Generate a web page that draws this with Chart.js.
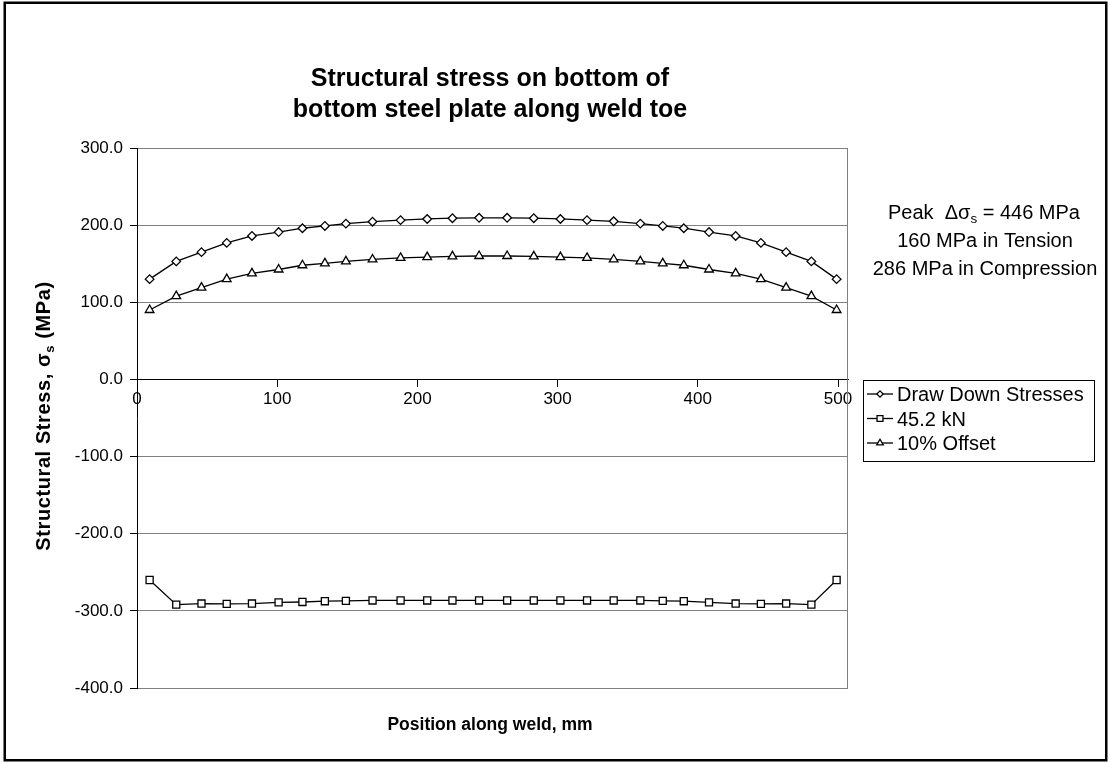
<!DOCTYPE html>
<html>
<head>
<meta charset="utf-8">
<script src="https://cdn.jsdelivr.net/npm/chart.js@4.4.1/dist/chart.umd.min.js"></script>
<style>
  html, body { margin: 0; padding: 0; background: #fff; }
  #wrap { width: 1110px; height: 763px; position: relative; }
</style>
</head>
<body>
<div id="wrap"><canvas id="chart" width="1110" height="763"></canvas></div>
<script>
// position along the weld (mm) and the three stress series (MPa)
const positions = [9, 28, 46, 64, 82, 101, 118, 134, 149, 168, 188, 207, 225, 244,
  264, 283, 302, 321, 340, 359, 375, 390, 408, 427, 445, 463, 481, 499];
const drawDown = [130, 153, 165, 177, 186, 191, 196, 199, 202, 204.5, 206.5, 208, 209, 209.5,
  209.5, 209, 208, 206.5, 205, 202, 199, 196, 191, 186, 177, 165, 153, 130];
const load452 = [-260, -292, -290.5, -291, -290.5, -289, -288.5, -287.5, -287, -286.5, -286.5, -286.5, -286.5, -286.5,
  -286.5, -286.5, -286.5, -286.5, -286.5, -286.5, -287, -287.5, -289, -290.5, -291, -290.5, -292, -260];
const offset10 = [90, 108, 119, 130, 137.5, 142.5, 148, 150.5, 153, 155.5, 157.5, 158.5, 159.5, 160,
  160, 159.5, 158.5, 157.5, 155.5, 153, 150.5, 148, 142.5, 137.5, 130, 119, 108, 90];

const xTicks = [0, 100, 200, 300, 400, 500];
const yTicks = [-400, -300, -200, -100, 0, 100, 200, 300];

const seriesNames = ["Draw Down Stresses", "45.2 kN", "10% Offset"];
const titleLines = ["Structural stress on bottom of", "bottom steel plate along weld toe"];

const FONT = "'Liberation Sans', Arial, sans-serif";

const toPoints = (ys) => ys.map((y, i) => ({ x: positions[i], y: y }));

function makeSet(label, ys, style, radius) {
  return {
    label: label,
    data: toPoints(ys),
    borderColor: "#000",
    borderWidth: 1.3,
    pointStyle: style,
    pointRadius: radius,
    pointBackgroundColor: "#fff",
    pointBorderColor: "#000",
    pointBorderWidth: 1.3,
    tension: 0,
    fill: false,
  };
}

// text with a subscript piece; parts are drawn left to right, centred on x
function drawRich(ctx, parts, x, y) {
  let w = 0;
  parts.forEach((p) => { ctx.font = p.font; p.w = ctx.measureText(p.t).width; w += p.w; });
  let cx = x - w / 2;
  parts.forEach((p) => {
    ctx.font = p.font;
    ctx.fillText(p.t, cx, y + (p.dy || 0));
    cx += p.w;
  });
}

const decorations = {
  id: "decorations",
  afterDraw(chart) {
    const ctx = chart.ctx;
    const area = chart.chartArea;
    ctx.save();

    // right edge of plot area
    ctx.strokeStyle = "#808080";
    ctx.lineWidth = 1;
    ctx.beginPath();
    ctx.moveTo(area.right - 0.5, area.top);
    ctx.lineTo(area.right - 0.5, area.bottom);
    ctx.stroke();

    // outer frame
    ctx.strokeStyle = "#000";
    ctx.lineWidth = 2.5;
    ctx.strokeRect(4.75, 2.75, 1101.5, 757.5);

    ctx.fillStyle = "#000";
    ctx.textAlign = "left";
    ctx.textBaseline = "alphabetic";

    // title
    const tf = "bold 25px " + FONT;
    drawRich(ctx, [{ t: titleLines[0], font: tf }], 490, 86);
    drawRich(ctx, [{ t: titleLines[1], font: tf }], 490, 117);

    // x axis title
    drawRich(ctx, [{ t: "Position along weld, mm", font: "bold 17.5px " + FONT }], 490, 730);

    // y axis title
    ctx.save();
    ctx.translate(50, 416);
    ctx.rotate(-Math.PI / 2);
    ctx.letterSpacing = "0.6px";
    const yf = "bold 20px " + FONT;
    drawRich(ctx, [
      { t: "Structural Stress, \u03c3", font: yf },
      { t: "s", font: "bold 13px " + FONT, dy: 4 },
      { t: " (MPa)", font: yf },
    ], 0, 0);
    ctx.restore();

    // peak annotation
    const af = "20px " + FONT;
    drawRich(ctx, [
      { t: "Peak  \u0394\u03c3", font: af },
      { t: "s", font: "13.5px " + FONT, dy: 4 },
      { t: " = 446 MPa", font: af },
    ], 984, 219);
    drawRich(ctx, [{ t: "160 MPa in Tension", font: af }], 985, 247);
    drawRich(ctx, [{ t: "286 MPa in Compression", font: af }], 985, 275);

    // legend
    ctx.strokeStyle = "#000";
    ctx.lineWidth = 1;
    ctx.strokeRect(863.5, 380.5, 231, 81);
    const rows = [394, 418.5, 443];
    const radii = [3.2, 4.2, 3.8];
    chart.data.datasets.forEach((ds, i) => {
      const y = rows[i];
      ctx.strokeStyle = "#000";
      ctx.lineWidth = 1.3;
      ctx.beginPath();
      ctx.moveTo(867, y);
      ctx.lineTo(893, y);
      ctx.stroke();
      ctx.fillStyle = "#fff";
      Chart.helpers.drawPoint(ctx, { pointStyle: ds.pointStyle, radius: radii[i], rotation: 0, borderWidth: 1.2 }, 880, y);
      ctx.fillStyle = "#000";
      ctx.font = "20px " + FONT;
      ctx.textAlign = "left";
      ctx.fillText(ds.label, 897, y + 7);
    });

    ctx.restore();
  },
};

new Chart(document.getElementById("chart"), {
  type: "line",
  data: {
    datasets: [
      makeSet(seriesNames[0], drawDown, "rectRot", 4.3),
      makeSet(seriesNames[1], load452, "rect", 5),
      makeSet(seriesNames[2], offset10, "triangle", 5),
    ],
  },
  options: {
    responsive: false,
    animation: false,
    layout: { padding: { left: 0, top: 148, right: 262, bottom: 75 } },
    plugins: {
      legend: { display: false },
      tooltip: { enabled: false },
    },
    scales: {
      x: {
        type: "linear",
        position: { y: 0 },
        min: 0,
        max: 507.13,
        afterBuildTicks: (s) => { s.ticks = xTicks.map((v) => ({ value: v })); },
        ticks: {
          color: "#000",
          padding: 3,
          maxRotation: 0,
          autoSkip: false,
          font: { family: FONT, size: 17 },
          callback: (v) => v,
        },
        grid: { drawOnChartArea: false, drawTicks: true, tickLength: 7, tickColor: "#000" },
        border: { display: true, color: "#000", width: 1 },
      },
      y: {
        type: "linear",
        min: -400,
        max: 300,
        afterFit: (s) => { s.width = 137; },
        afterBuildTicks: (s) => { s.ticks = yTicks.map((v) => ({ value: v })); },
        ticks: {
          color: "#000",
          padding: 7,
          autoSkip: false,
          font: { family: FONT, size: 17 },
          callback: (v) => Number(v).toFixed(1),
        },
        grid: { color: "#808080", lineWidth: 1, tickLength: 7, tickColor: "#000" },
        border: { display: true, color: "#000", width: 1 },
      },
    },
  },
  plugins: [decorations],
});
</script>
</body>
</html>
